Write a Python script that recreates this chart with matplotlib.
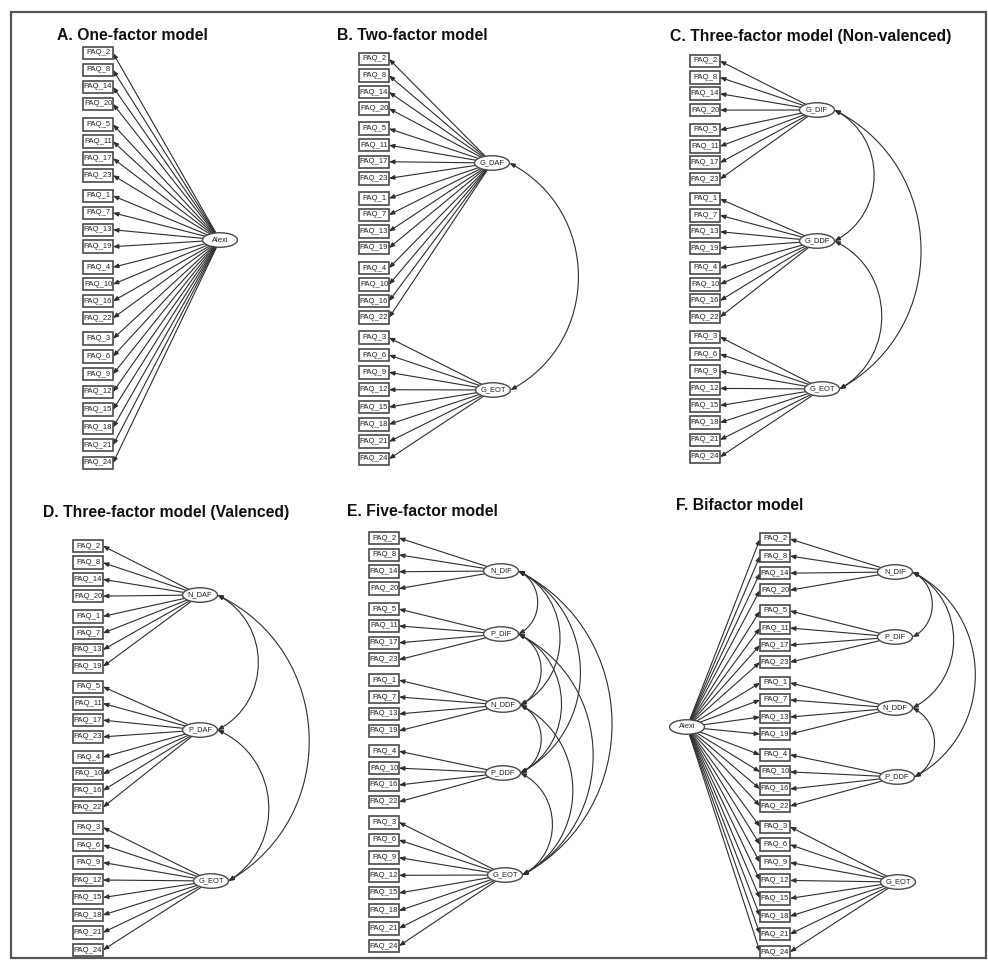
"""Six CFA path diagrams (one-factor ... bifactor) for the PAQ items."""

import numpy as np
import matplotlib

matplotlib.use("Agg")
import matplotlib.pyplot as plt
from matplotlib.patches import Rectangle, Ellipse, FancyArrowPatch
from matplotlib.path import Path

plt.rcParams["font.family"] = ["Liberation Sans", "DejaVu Sans"]

# PAQ item numbers in each facet
N_DIF = [2, 8, 14, 20]
P_DIF = [5, 11, 17, 23]
N_DDF = [1, 7, 13, 19]
P_DDF = [4, 10, 16, 22]
EOT = [3, 6, 9, 12, 15, 18, 21, 24]

ORDER_STD = [N_DIF, P_DIF, N_DDF, P_DDF, EOT]
ORDER_VAL = [N_DIF, N_DDF, P_DIF, P_DDF, EOT]

titles = {
    "A": "A. One-factor model",
    "B": "B. Two-factor model",
    "C": "C. Three-factor model (Non-valenced)",
    "D": "D. Three-factor model (Valenced)",
    "E": "E. Five-factor model",
    "F": "F. Bifactor model",
}

models = {
    "A": {"Alexi": N_DIF + P_DIF + N_DDF + P_DDF + EOT},
    "B": {"G_DAF": N_DIF + P_DIF + N_DDF + P_DDF, "G_EOT": EOT},
    "C": {"G_DIF": N_DIF + P_DIF, "G_DDF": N_DDF + P_DDF, "G_EOT": EOT},
    "D": {"N_DAF": N_DIF + N_DDF, "P_DAF": P_DIF + P_DDF, "G_EOT": EOT},
    "E": {"N_DIF": N_DIF, "P_DIF": P_DIF, "N_DDF": N_DDF, "P_DDF": P_DDF, "G_EOT": EOT},
    "F": {"Alexi": N_DIF + P_DIF + N_DDF + P_DDF + EOT,
          "N_DIF": N_DIF, "P_DIF": P_DIF, "N_DDF": N_DDF, "P_DDF": P_DDF, "G_EOT": EOT},
}

covariances = {
    "A": [],
    "B": [("G_DAF", "G_EOT")],
    "C": [("G_DIF", "G_DDF"), ("G_DIF", "G_EOT"), ("G_DDF", "G_EOT")],
    "D": [("N_DAF", "P_DAF"), ("N_DAF", "G_EOT"), ("P_DAF", "G_EOT")],
    "E": [("N_DIF", "P_DIF"), ("N_DIF", "N_DDF"), ("N_DIF", "P_DDF"), ("N_DIF", "G_EOT"),
          ("P_DIF", "N_DDF"), ("P_DIF", "P_DDF"), ("P_DIF", "G_EOT"),
          ("N_DDF", "P_DDF"), ("N_DDF", "G_EOT"), ("P_DDF", "G_EOT")],
    "F": [("N_DIF", "P_DIF"), ("N_DIF", "N_DDF"), ("N_DIF", "P_DDF"), ("N_DDF", "P_DDF")],
}

# layout (pixel coordinates of the 988x960 canvas)
layout = {
    "A": dict(title=(57, 35), box_x=83, y0=53, y1=463, order=ORDER_STD,
              factors={"Alexi": (220, 240)}),
    "B": dict(title=(337, 36), box_x=359, y0=59, y1=459, order=ORDER_STD,
              factors={"G_DAF": (492, 163), "G_EOT": (493, 390)}),
    "C": dict(title=(670, 37), box_x=690, y0=61, y1=457, order=ORDER_STD,
              factors={"G_DIF": (817, 110), "G_DDF": (817, 241), "G_EOT": (822, 389)}),
    "D": dict(title=(43, 513), box_x=73, y0=546, y1=950, order=ORDER_VAL,
              factors={"N_DAF": (200, 595), "P_DAF": (200, 730), "G_EOT": (211, 881)}),
    "E": dict(title=(347, 512), box_x=369, y0=538, y1=946, order=ORDER_STD,
              factors={"N_DIF": (501, 571), "P_DIF": (501, 634), "N_DDF": (503, 705),
                       "P_DDF": (503, 773), "G_EOT": (505, 875)}),
    "F": dict(title=(676, 506), box_x=760, y0=539, y1=952, order=ORDER_STD,
              factors={"Alexi": (687, 727), "N_DIF": (895, 572), "P_DIF": (895, 637),
                       "N_DDF": (895, 708), "P_DDF": (897, 777), "G_EOT": (898, 882)}),
}

BOX_W, BOX_H = 30, 12.5
ELL_W, ELL_H = 35, 14.5
LINE = "#2e2e2e"
EDGE = "#4a4a4a"
ARC_RATIO = 0.30
HEAD = "head_length=0.32,head_width=0.13"


def item_positions(order, y0, y1):
    offs, y = [], 0.0
    for grp in order:
        step = 17.6 if len(grp) == 8 else 16.8
        for i in range(len(grp)):
            offs.append(y)
            y += step if i < len(grp) - 1 else 0
        y += 20.4
    offs = np.array(offs)
    offs = y0 + offs / offs[-1] * (y1 - y0)
    items = [it for grp in order for it in grp]
    return dict(zip(items, offs))


def ellipse_edge(c, target):
    d = np.array(target, float) - np.array(c, float)
    d /= np.hypot(*d)
    t = 1.0 / np.sqrt((d[0] / (ELL_W / 2)) ** 2 + (d[1] / (ELL_H / 2)) ** 2)
    return np.array(c) + t * d


def arc_path(p0, p3):
    p0, p3 = np.array(p0, float), np.array(p3, float)
    d = p3 - p0
    L = np.hypot(*d)
    n = np.array([d[1], -d[0]]) / L
    b = ARC_RATIO * L
    R = (L ** 2 / 4 + b ** 2) / (2 * b)
    c = (p0 + p3) / 2 + n * (b - R)
    phi = 2 * np.arctan2(L / 2, R - b)
    k = 4 / 3 * np.tan(phi / 4) * R

    def tangent(p):
        r = (p - c) / R
        t = np.array([-r[1], r[0]])
        return t if t @ n > 0 else -t

    p1 = p0 + k * tangent(p0)
    p2 = p3 + k * tangent(p3)
    return Path([p0, p1, p2, p3], [Path.MOVETO, Path.CURVE4, Path.CURVE4, Path.CURVE4])


fig = plt.figure(figsize=(9.88, 9.6), dpi=100)
ax = fig.add_axes([0, 0, 1, 1])
ax.set_xlim(0, 988)
ax.set_ylim(960, 0)
ax.axis("off")

ax.add_patch(Rectangle((11, 12), 975, 946, fill=False, lw=1.6, edgecolor="#555555"))

for key, lay in layout.items():
    ax.text(*lay["title"], titles[key], fontsize=11.3, fontweight="bold",
            ha="left", va="center", color="#111111")
    ypos = item_positions(lay["order"], lay["y0"], lay["y1"])
    bx = lay["box_x"]
    for it, y in ypos.items():
        ax.add_patch(Rectangle((bx, y - BOX_H / 2), BOX_W, BOX_H, fill=True,
                               facecolor="white", lw=1.2, edgecolor=EDGE, zorder=3))
        ax.text(bx + BOX_W / 2, y, f"PAQ_{it}", fontsize=5.5, ha="center",
                va="center", color="#222222", zorder=4)

    for fac, (fx, fy) in lay["factors"].items():
        ax.add_patch(Ellipse((fx, fy), ELL_W, ELL_H, facecolor="white", lw=1.0,
                             edgecolor=EDGE, zorder=3))
        ax.text(fx, fy, fac, fontsize=5.4, ha="center", va="center",
                color="#222222", zorder=4)
        for it in models[key][fac]:
            y = ypos[it]
            end = (bx + BOX_W, y) if fx > bx + BOX_W else (bx, y)
            start = ellipse_edge((fx, fy), end)
            ax.add_patch(FancyArrowPatch(start, end, arrowstyle="-|>," + HEAD,
                                         mutation_scale=10, lw=0.8, color=LINE,
                                         shrinkA=0, shrinkB=0, zorder=2))

    for f1, f2 in covariances[key]:
        (x1, y1), (x2, y2) = lay["factors"][f1], lay["factors"][f2]
        path = arc_path((x1 + ELL_W / 2, y1), (x2 + ELL_W / 2, y2))
        ax.add_patch(FancyArrowPatch(path=path, arrowstyle="<|-|>," + HEAD,
                                     mutation_scale=10, lw=0.8, color=LINE, zorder=2))

fig.savefig("out.png", dpi=100, facecolor="white")
